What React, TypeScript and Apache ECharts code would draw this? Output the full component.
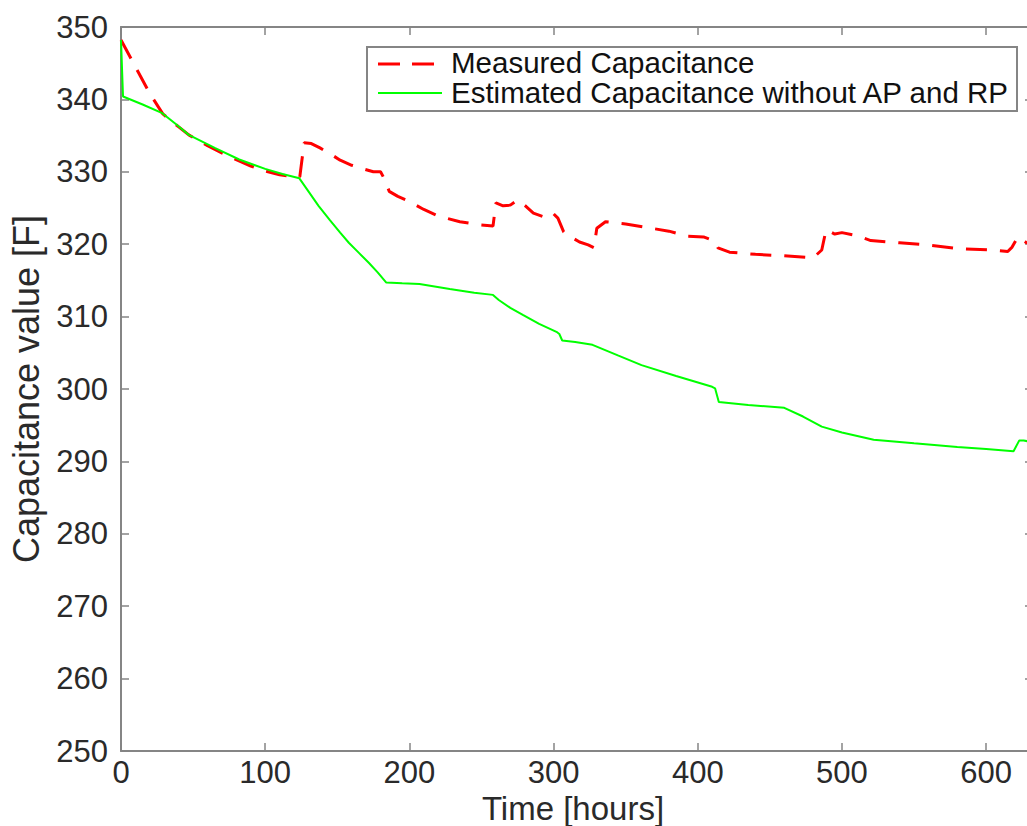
import React, { useEffect, useRef } from "react";
import * as echarts from "echarts";

const measuredTime = [0, 10, 20, 29, 40, 47, 60, 75, 90, 100, 110, 117, 124, 127, 132, 138, 145, 152, 160, 168, 175, 180, 183, 186, 192, 200, 210, 220, 235, 248, 258, 260, 265, 270, 275, 281, 286, 293, 298, 300, 303, 307, 312, 318, 324, 328, 330, 336, 350, 365, 380, 393, 404, 412, 414, 422, 440, 460, 480, 486, 489, 495, 500, 510, 520, 540, 560, 580, 603, 615, 618, 622, 628, 633];
const measuredValue = [348.2, 344.5, 340.8, 338, 336.2, 335.1, 333.6, 332.1, 330.8, 330.1, 329.6, 329.4, 329.3, 334, 333.9, 333.3, 332.5, 331.6, 330.9, 330.4, 330, 330, 328.9, 327.3, 326.6, 325.9, 324.8, 323.9, 323.1, 322.7, 322.5, 325.7, 325.3, 325.4, 326.1, 325.2, 324.3, 323.8, 324.4, 324.2, 323.6, 321.7, 321, 320.3, 319.9, 319.5, 322.2, 323.1, 322.8, 322.3, 321.8, 321.1, 321.0, 320.4, 319.5, 318.9, 318.6, 318.4, 318.1, 319.2, 322, 321.4, 321.6, 321.2, 320.5, 320.2, 319.9, 319.4, 319.2, 319.0, 319.6, 321, 320.2, 320.1];

const estimatedTime = [0, 1.4, 15, 28.6, 38, 47, 65, 82, 100, 112, 123.7, 130, 137, 145, 152, 158, 165, 172, 178, 184, 195, 207, 228, 245, 258, 262, 270, 279, 290, 302, 304, 306, 315, 327, 345, 361, 385, 410, 412, 414.6, 435, 460, 473, 486, 500, 522, 550, 580, 600, 619, 623, 626, 633];
const estimatedValue = [348.2, 340.4, 339.3, 338.1, 336.6, 335.1, 333.3, 331.7, 330.4, 329.7, 329.1, 327.3, 325.3, 323.3, 321.6, 320.2, 318.8, 317.4, 316.1, 314.7, 314.6, 314.5, 313.8, 313.3, 313.0, 312.3, 311.2, 310.2, 309.0, 307.9, 307.6, 306.7, 306.5, 306.1, 304.6, 303.3, 301.8, 300.3, 300.1, 298.2, 297.8, 297.4, 296.2, 294.8, 294.0, 293.0, 292.5, 292.0, 291.7, 291.4, 292.9, 292.9, 292.6];

const seriesNames = ["Measured Capacitance", "Estimated Capacitance without AP and RP"];
const xTitle = "Time [hours]";
const yTitle = "Capacitance value [F]";

const FONT = "'Liberation Sans', Arial, Helvetica, sans-serif";
const AXIS_GRAY = "#858585";
const LABEL_COLOR = "#2a2a2a";

export default function App() {
  const ref = useRef<HTMLDivElement>(null);
  useEffect(() => {
    if (!ref.current) return;
    const chart = echarts.init(ref.current, undefined, { renderer: "svg" });
    const pair = (ts: number[], vs: number[]) => ts.map((t, i) => [t, vs[i]]);
    const axisCommon = {
      type: "value" as const,
      axisLine: { show: true, onZero: false, lineStyle: { color: AXIS_GRAY, width: 2 } },
      axisTick: { show: true, inside: true, length: 8, lineStyle: { color: AXIS_GRAY, width: 1.5 } },
      splitLine: { show: false },
    };
    chart.setOption({
      animation: false,
      backgroundColor: "#ffffff",
      grid: {
        left: 121,
        right: -6,
        top: 27,
        bottom: 75,
        containLabel: false,
        outerBoundsMode: "none",
      },
      xAxis: [
        {
          ...axisCommon,
          position: "bottom",
          min: 0,
          max: 632.5,
          interval: 100,
          axisLabel: {
            fontSize: 31,
            color: LABEL_COLOR,
            fontFamily: FONT,
            margin: 6,
            formatter: (v: number) => (v % 100 === 0 ? String(v) : ""),
          },
        },
        {
          ...axisCommon,
          position: "top",
          min: 0,
          max: 632.5,
          interval: 100,
          axisLabel: { show: false },
        },
      ],
      yAxis: [
        {
          ...axisCommon,
          position: "left",
          min: 250,
          max: 350,
          interval: 10,
          name: yTitle,
          nameLocation: "middle",
          nameGap: 77,
          nameTextStyle: { fontSize: 36, color: LABEL_COLOR, fontFamily: FONT },
          axisLabel: { fontSize: 31, color: LABEL_COLOR, fontFamily: FONT, margin: 13 },
        },
        {
          ...axisCommon,
          position: "right",
          min: 250,
          max: 350,
          interval: 10,
          axisLabel: { show: false },
        },
      ],
      series: [
        {
          name: seriesNames[0],
          type: "line",
          data: pair(measuredTime, measuredValue),
          showSymbol: false,
          lineStyle: { color: "#ff0000", width: 3, type: [21, 13] },
          itemStyle: { color: "#ff0000" },
          z: 2,
        },
        {
          name: seriesNames[1],
          type: "line",
          data: pair(estimatedTime, estimatedValue),
          showSymbol: false,
          lineStyle: { color: "#00ff00", width: 2 },
          itemStyle: { color: "#00ff00" },
          z: 3,
        },
      ],
      graphic: [
        {
          type: "text",
          x: 573,
          y: 808,
          style: {
            text: xTitle,
            fontSize: 33,
            fontFamily: FONT,
            fill: LABEL_COLOR,
            align: "center",
            verticalAlign: "middle",
          },
        },
        {
          type: "group",
          z: 100,
          children: [
            {
              type: "rect",
              shape: { x: 367, y: 47, width: 650, height: 64 },
              style: { fill: "#ffffff", stroke: AXIS_GRAY, lineWidth: 2 },
            },
            {
              type: "line",
              shape: { x1: 378, y1: 64, x2: 436, y2: 64 },
              style: { stroke: "#ff0000", lineWidth: 3, lineDash: [22, 12] },
            },
            {
              type: "line",
              shape: { x1: 378, y1: 93, x2: 442, y2: 93 },
              style: { stroke: "#00ff00", lineWidth: 2 },
            },
            {
              type: "text",
              x: 451,
              y: 62,
              style: { text: seriesNames[0], fontSize: 29.5, fontFamily: FONT, fill: "#111", verticalAlign: "middle" },
            },
            {
              type: "text",
              x: 451,
              y: 92,
              style: { text: seriesNames[1], fontSize: 29.5, fontFamily: FONT, fill: "#111", verticalAlign: "middle" },
            },
          ],
        },
      ],
    });
    return () => chart.dispose();
  }, []);
  return (
    <div
      ref={ref}
      style={{ position: "fixed", left: 0, top: 0, width: 1027, height: 826, background: "#fff" }}
    />
  );
}
